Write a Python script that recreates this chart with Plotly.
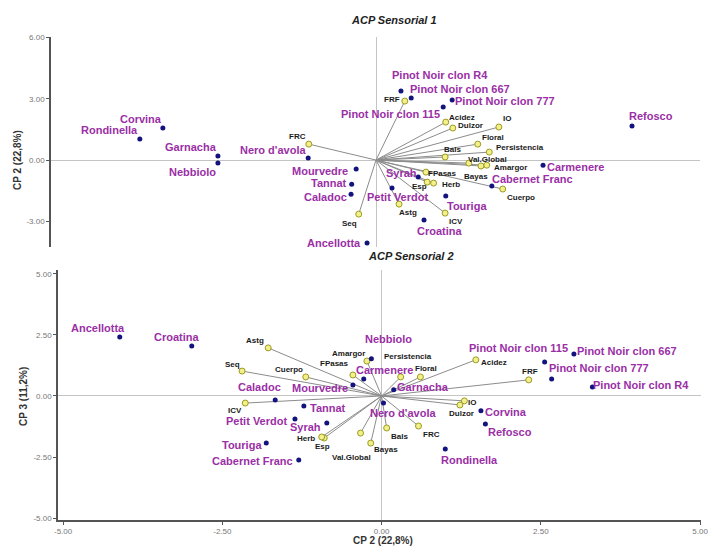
import plotly.graph_objects as go

W, H = 708, 546
FONT = "Arial, Liberation Sans, sans-serif"

wines = ["Rondinella", "Corvina", "Garnacha", "Nebbiolo", "Nero d'avola", "Mourvedre",
         "Tannat", "Caladoc", "Ancellotta", "Pinot Noir clon R4", "Pinot Noir clon 667",
         "Pinot Noir clon 777", "Pinot Noir clon 115", "Refosco", "Carmenere",
         "Cabernet Franc", "Syrah", "Petit Verdot", "Touriga", "Croatina"]
# ACP Sensorial 1 (CP1, CP2)
s1_wine_x = [-3.69, -3.33, -2.47, -2.47, -1.06, -0.31, -0.38, -0.39, -0.14, 0.39, 0.55,
             1.19, 1.05, 4.00, 2.61, 1.81, 0.66, 0.25, 1.09, 0.75]
s1_wine_y = [1.03, 1.57, 0.20, -0.15, 0.10, -0.44, -1.18, -1.67, -4.07, 3.38, 3.04,
             2.94, 2.60, 1.67, -0.25, -1.27, -0.83, -1.37, -1.76, -2.94]
# ACP Sensorial 2 (CP2, CP3)
s2_wine_x = [1.00, 1.56, 0.19, -0.16, 0.03, -0.45, -1.22, -1.67, -4.11, 3.31, 3.02,
             2.67, 2.56, 1.63, -0.28, -1.30, -0.86, -1.36, -1.81, -2.98]
s2_wine_y = [-2.17, -0.61, 0.25, 1.52, -0.29, 0.45, -0.41, -0.16, 2.42, 0.37, 1.72,
             0.70, 1.39, -1.15, 0.70, -2.62, -1.11, -0.94, -1.93, 2.05]

variables = ["FRF", "FRC", "Seq", "Acidez", "Dulzor", "IO", "Floral", "Persistencia", "Bals",
             "Val.Global", "Amargor", "Bayas", "FPasas", "Esp", "Herb", "Cuerpo", "Astg", "ICV"]
s1_var_x = [0.45, -1.05, -0.27, 1.09, 1.20, 1.92, 1.59, 1.77, 1.08, 1.45, 1.73, 1.64,
            0.78, 0.80, 0.90, 1.98, 0.36, 1.08]
s1_var_y = [2.89, 0.78, -2.65, 1.86, 1.57, 1.62, 0.78, 0.39, 0.15, -0.15, -0.25, -0.29,
            -0.59, -1.08, -1.13, -1.42, -2.16, -2.60]
s2_var_x = [2.31, 0.58, -2.19, 1.48, 1.23, 1.30, 0.61, 0.30, 0.08, -0.33, -0.23, -0.17,
            -0.45, -0.90, -0.94, -1.19, -1.78, -2.14]
s2_var_y = [0.66, -1.23, 1.02, 1.48, -0.37, -0.20, 0.78, 0.78, -1.31, -1.52, 1.43, -1.93,
            0.86, -1.72, -1.68, 0.78, 1.97, -0.29]

top_yticks = [6, 3, 0, -3]
top_yticklabels = ["6.00", "3.00", "0.00", "-3.00"]
bot_ticks = [5, 2.5, 0, -2.5, -5]
bot_ticklabels = ["5.00", "2.50", "0.00", "-2.50", "-5.00"]

# label offsets in pixels (dx, dy up)
s1_wine_off = {"Rondinella": (-30, 9), "Corvina": (-22, 9), "Garnacha": (-27, 9),
               "Nebbiolo": (-25, -9), "Nero d'avola": (-35, 8), "Mourvedre": (-36, -2),
               "Tannat": (-23, 1), "Caladoc": (-26, -3), "Ancellotta": (-33, 0),
               "Pinot Noir clon R4": (39, 16), "Pinot Noir clon 667": (49, 9),
               "Pinot Noir clon 777": (53, -1), "Pinot Noir clon 115": (-53, -7),
               "Refosco": (19, 10), "Carmenere": (32, -2), "Cabernet Franc": (41, 7),
               "Syrah": (-17, 4), "Petit Verdot": (5, -9), "Touriga": (21, -10),
               "Croatina": (16, -11)}
s2_wine_off = {"Rondinella": (24, -11), "Corvina": (25, -1), "Garnacha": (29, 3),
               "Nebbiolo": (17, 20), "Nero d'avola": (20, -10), "Mourvedre": (-33, -3),
               "Tannat": (24, -2), "Caladoc": (-16, 13), "Ancellotta": (-22, 9),
               "Pinot Noir clon R4": (49, 2), "Pinot Noir clon 667": (53, 3),
               "Pinot Noir clon 777": (47, 11), "Pinot Noir clon 115": (-26, 14),
               "Refosco": (25, -8), "Carmenere": (21, 9), "Cabernet Franc": (-46, -1),
               "Syrah": (-21, -4), "Petit Verdot": (-38, -2), "Touriga": (-24, -2),
               "Croatina": (-15, 9)}
s1_var_off = {"FRF": (-13, 2), "FRC": (-11, 8), "Seq": (-9, -9), "Acidez": (16, 5),
              "Dulzor": (18, 3), "IO": (8, 9), "Floral": (15, 7), "Persistencia": (31, 5),
              "Bals": (7, 8), "Val.Global": (19, 4), "Amargor": (24, -2), "Bayas": (-5, -11),
              "FPasas": (17, -1), "Esp": (-8, -4), "Herb": (17, -1), "Cuerpo": (18, -8),
              "Astg": (9, -8), "ICV": (11, -8)}
s2_var_off = {"FRF": (1, 8), "FRC": (13, -8), "Seq": (-10, 7), "Acidez": (18, -3),
              "Dulzor": (2, -8), "IO": (8, -2), "Floral": (6, 8), "Persistencia": (7, 20),
              "Bals": (13, -9), "Val.Global": (-9, -24), "Amargor": (-18, 8), "Bayas": (15, -6),
              "FPasas": (-18, 11), "Esp": (-2, -9), "Herb": (-16, -2), "Cuerpo": (-17, 7),
              "Astg": (-13, 7), "ICV": (-10, -7)}

PURPLE = "#9a2fa6"
NAVY = "#13137e"
LINE = "#8c8c8c"

fig = go.Figure()


def add_panel(vx, vy, wx, wy, xa, ya, woff, voff):
    lx, ly = [], []
    for x, y in zip(vx, vy):
        lx += [0, x, None]
        ly += [0, y, None]
    fig.add_trace(go.Scatter(x=lx, y=ly, mode="lines", xaxis=xa, yaxis=ya,
                             line=dict(color=LINE, width=1), hoverinfo="skip", showlegend=False))
    fig.add_trace(go.Scatter(x=vx, y=vy, mode="markers", xaxis=xa, yaxis=ya,
                             marker=dict(size=6, color="#f2f08a", line=dict(color="#9c9a22", width=1)),
                             showlegend=False))
    fig.add_trace(go.Scatter(x=wx, y=wy, mode="markers", xaxis=xa, yaxis=ya,
                             marker=dict(size=5, color=NAVY), showlegend=False))
    xr = "x" if xa == "x" else "x2"
    yr = "y" if ya == "y" else "y2"
    for n, x, y in zip(variables, vx, vy):
        dx, dy = voff[n]
        fig.add_annotation(x=x, y=y, xref=xr, yref=yr, text="<b>%s</b>" % n, showarrow=False,
                           xanchor="center", yanchor="middle",
                           xshift=dx, yshift=dy, font=dict(family=FONT, size=8, color="#1a1a1a"))
    for n, x, y in zip(wines, wx, wy):
        dx, dy = woff[n]
        fig.add_annotation(x=x, y=y, xref=xr, yref=yr, text="<b>%s</b>" % n, showarrow=False,
                           xanchor="center", yanchor="middle",
                           xshift=dx, yshift=dy, font=dict(family=FONT, size=11, color=PURPLE))


add_panel(s1_var_x, s1_var_y, s1_wine_x, s1_wine_y, "x", "y", s1_wine_off, s1_var_off)
add_panel(s2_var_x, s2_var_y, s2_wine_x, s2_wine_y, "x2", "y2", s2_wine_off, s2_var_off)

tickfont = dict(family=FONT, size=8, color="#777777")
axline = dict(showline=True, linecolor="#555555", linewidth=1.5, ticks="outside",
              ticklen=3, tickcolor="#555555", showgrid=False, zeroline=True,
              zerolinecolor="#c4c4c4", zerolinewidth=1, tickfont=tickfont, automargin=False,
              ticklabeloverflow="allow")

fig.update_layout(
    width=W, height=H, margin=dict(l=0, r=0, t=0, b=0, autoexpand=False),
    paper_bgcolor="white", plot_bgcolor="white", showlegend=False,
    xaxis=dict(domain=[51 / W, 700 / W], range=[-5.078, 5.0625], anchor="y",
               showline=False, showticklabels=False, ticks="", showgrid=False,
               zeroline=True, zerolinecolor="#c4c4c4", zerolinewidth=1, automargin=False),
    yaxis=dict(domain=[1 - 247 / H, 1 - 37 / H], range=[-4.26, 6.03], anchor="x",
               tickvals=top_yticks, ticktext=top_yticklabels, **axline),
    xaxis2=dict(domain=[58 / W, 701 / W], range=[-5.08, 5.015], anchor="y2",
                tickvals=bot_ticks, ticktext=bot_ticklabels, **axline),
    yaxis2=dict(domain=[1 - 520 / H, 1 - 270 / H], range=[-5.08, 5.16], anchor="x2",
                tickvals=bot_ticks, ticktext=bot_ticklabels, **axline),
)

titlefont = dict(family=FONT, size=11, color="#222222")
axtitle = dict(family=FONT, size=10, color="#333333")
common = dict(xref="paper", yref="paper", showarrow=False, xanchor="center", yanchor="middle")
fig.add_annotation(x=394 / W, y=1 - 20 / H, text="<b><i>ACP Sensorial 1</i></b>",
                   font=titlefont, **common)
fig.add_annotation(x=411 / W, y=1 - 256 / H, text="<b><i>ACP Sensorial 2</i></b>",
                   font=titlefont, **common)
fig.add_annotation(x=17 / W, y=1 - 160 / H, text="<b>CP 2 (22,8%)</b>", textangle=-90,
                   font=axtitle, **common)
fig.add_annotation(x=23 / W, y=1 - 397 / H, text="<b>CP 3 (11,2%)</b>", textangle=-90,
                   font=axtitle, **common)
fig.add_annotation(x=383 / W, y=1 - 540 / H, text="<b>CP 2 (22,8%)</b>",
                   font=axtitle, **common)

fig.write_html("out.html", config={"displayModeBar": False},
               post_script="document.body.style.margin='0';")
